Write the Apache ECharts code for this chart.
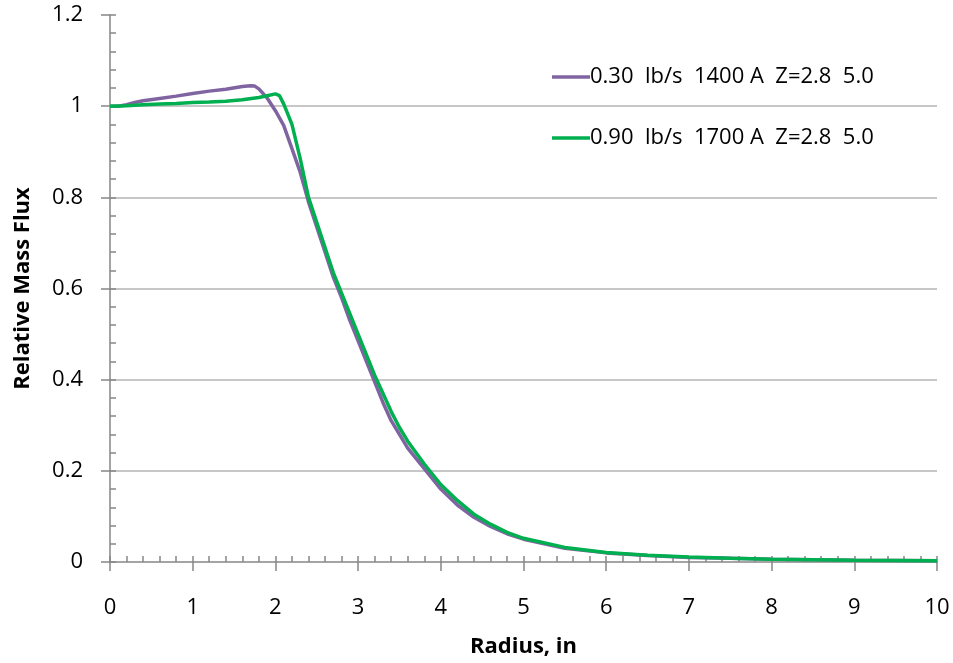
<!DOCTYPE html>
<html>
<head>
<meta charset="utf-8">
<script src="https://cdn.jsdelivr.net/npm/echarts@6/dist/echarts.min.js"></script>
<style>
html,body{margin:0;padding:0;background:#fff;}
#chart{width:953px;height:663px;}
</style>
</head>
<body>
<div id="chart"></div>
<script>
const seriesNames = ['0.30  lb/s  1400 A  Z=2.8  5.0', '0.90  lb/s  1700 A  Z=2.8  5.0'];

const purpleR = [0, 0.1, 0.2, 0.3, 0.4, 0.6, 0.8, 1.0, 1.2, 1.4, 1.6, 1.7, 1.75, 1.8, 1.9, 2.0, 2.1, 2.2, 2.3, 2.4, 2.5, 2.6, 2.7, 2.8, 2.9, 3.0, 3.1, 3.2, 3.3, 3.4, 3.5, 3.6, 3.8, 4.0, 4.2, 4.4, 4.6, 4.8, 5.0, 5.5, 6.0, 6.5, 7.0, 7.5, 8.0, 9.0, 10.0];
const purpleV = [1.0, 1.0, 1.003, 1.008, 1.012, 1.017, 1.022, 1.028, 1.033, 1.037, 1.043, 1.045, 1.044, 1.038, 1.018, 0.99, 0.958, 0.907, 0.855, 0.79, 0.735, 0.68, 0.625, 0.58, 0.53, 0.485, 0.44, 0.395, 0.35, 0.31, 0.28, 0.25, 0.205, 0.16, 0.125, 0.098, 0.078, 0.062, 0.05, 0.03, 0.02, 0.014, 0.01, 0.008, 0.006, 0.004, 0.003];

const greenR = [0, 0.2, 0.4, 0.6, 0.8, 1.0, 1.2, 1.4, 1.6, 1.8, 1.9, 2.0, 2.05, 2.1, 2.2, 2.3, 2.4, 2.5, 2.6, 2.7, 2.8, 2.9, 3.0, 3.1, 3.2, 3.3, 3.4, 3.5, 3.6, 3.8, 4.0, 4.2, 4.4, 4.6, 4.8, 5.0, 5.5, 6.0, 6.5, 7.0, 7.5, 8.0, 9.0, 10.0];
const greenV = [1.0, 1.001, 1.003, 1.005, 1.006, 1.008, 1.009, 1.011, 1.014, 1.019, 1.023, 1.027, 1.023, 1.005, 0.96, 0.885, 0.80, 0.745, 0.69, 0.635, 0.59, 0.545, 0.5, 0.455, 0.41, 0.37, 0.33, 0.295, 0.265, 0.215, 0.17, 0.135, 0.105, 0.083, 0.065, 0.052, 0.032, 0.021, 0.015, 0.011, 0.008, 0.006, 0.004, 0.003];

const xTitle = 'Radius, in';
const yTitle = 'Relative Mass Flux';

const FONT = '"Open Sans", "Noto Sans", sans-serif';
const axisGray = '#868686';

function pairs(xs, ys) { return xs.map((x, i) => [x, ys[i]]); }

const chart = echarts.init(document.getElementById('chart'), null, {renderer: 'canvas'});
chart.setOption({
  animation: false,
  backgroundColor: '#ffffff',
  textStyle: {fontFamily: FONT},
  grid: {left: 110, right: 16, top: 15, bottom: 99, containLabel: false},
  legend: {
    orient: 'vertical',
    left: 547,
    top: 61,
    icon: 'rect',
    itemWidth: 38,
    itemHeight: 3.5,
    itemGap: 39,
    textStyle: {fontFamily: FONT, fontSize: 22, color: '#000', padding: [0, 0, 0, -5]},
    data: seriesNames
  },
  xAxis: [{
    type: 'value', min: 0, max: 10, interval: 1,
    name: xTitle, nameLocation: 'middle', nameGap: 74,
    nameTextStyle: {fontFamily: FONT, fontSize: 22, fontWeight: 'bold', color: '#000'},
    axisLine: {show: true, onZero: false, lineStyle: {color: axisGray, width: 1.5}},
    axisTick: {show: true, inside: false, length: 9, lineStyle: {color: axisGray, width: 1.5}},
    axisLabel: {fontFamily: FONT, fontSize: 22, color: '#000', margin: 35},
    splitLine: {show: false}
  }, {
    type: 'value', min: 0, max: 10, interval: 0.2, position: 'bottom',
    axisLine: {show: false},
    axisTick: {show: true, inside: true, length: 6, lineStyle: {color: axisGray, width: 1.5}},
    axisLabel: {show: false},
    splitLine: {show: false}
  }],
  yAxis: [{
    type: 'value', min: 0, max: 1.2, interval: 0.2,
    name: yTitle, nameLocation: 'middle', nameGap: 76, nameRotate: 90,
    nameTextStyle: {fontFamily: FONT, fontSize: 22, fontWeight: 'bold', color: '#000'},
    axisLine: {show: true, onZero: false, lineStyle: {color: axisGray, width: 1.5}},
    axisTick: {show: true, inside: false, length: 9, lineStyle: {color: axisGray, width: 1.5}},
    axisLabel: {fontFamily: FONT, fontSize: 22, color: '#000', margin: 27,
      formatter: v => String(Math.round(v * 10) / 10)},
    splitLine: {show: true, showMinLine: false, showMaxLine: false, lineStyle: {color: '#b4b4b4', width: 1.5}}
  }, {
    type: 'value', min: 0, max: 1.2, interval: 0.04, position: 'left',
    axisLine: {show: false},
    axisTick: {show: true, inside: true, length: 6, lineStyle: {color: axisGray, width: 1.5}},
    axisLabel: {show: false},
    splitLine: {show: false}
  }],
  series: [{
    name: seriesNames[0], type: 'line', xAxisIndex: 0, yAxisIndex: 0,
    data: pairs(purpleR, purpleV), symbol: 'none', showSymbol: false,
    lineStyle: {color: '#8064a2', width: 3.5}, itemStyle: {color: '#8064a2'}, z: 3
  }, {
    name: seriesNames[1], type: 'line', xAxisIndex: 0, yAxisIndex: 0,
    data: pairs(greenR, greenV), symbol: 'none', showSymbol: false,
    lineStyle: {color: '#00b050', width: 3.5}, itemStyle: {color: '#00b050'}, z: 4
  }]
});
</script>
</body>
</html>
